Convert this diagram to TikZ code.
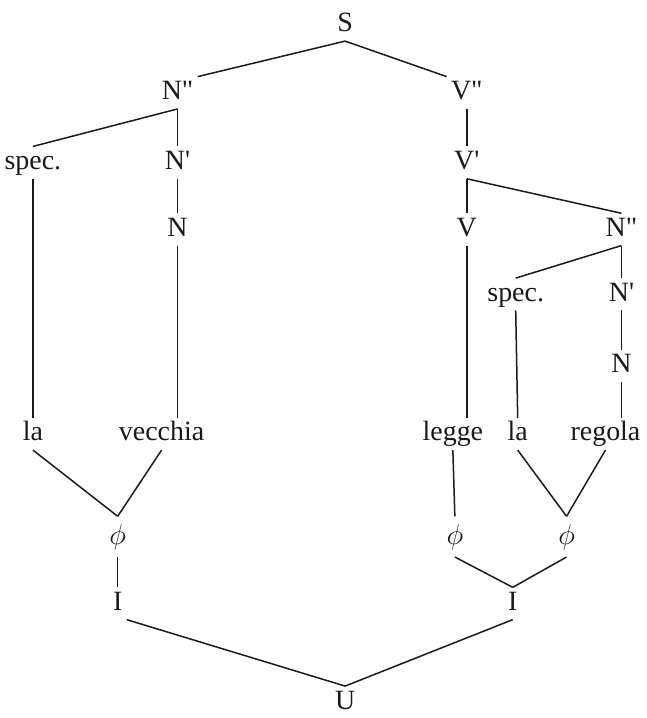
\documentclass[tikz,border=0pt]{standalone}
\usepackage{fontspec}
\setmainfont{Liberation Serif}
\usepackage{tikz}
\usetikzlibrary{calc}
\definecolor{ink}{HTML}{1A1A1A}
\tikzset{
  cat/.style={inner sep=2pt, text height=9.3pt, text depth=2.5pt, font=\fontsize{14}{16}\selectfont, text=ink},
  null/.style={cat, text height=12pt, text depth=4pt},
  br/.style={line width=0.75pt, draw=ink},
}
\newcommand{\dbl}{\textquotedbl}
\newcommand{\sgl}{\textquotesingle}

\begin{document}
\begin{tikzpicture}[x=0.5pt, y=-0.5pt]
    \fill[white] (0,0) rectangle (648,718);
    % categories
    \node[cat] (S) at (346,25) {S};
    \node[cat] (nnl) at (178,93) {N\dbl};
    \node[cat] (vvr) at (468,93) {V\dbl};
    \node[cat] (specl) at (33,163) {spec.};
    \node[cat] (nbl) at (178,163) {N\sgl};
    \node[cat] (vbr) at (468,163) {V\sgl};
    \node[cat] (nl) at (178,230) {N};
    \node[cat] (vr) at (468,230) {V};
    \node[cat] (nnr) at (623,230) {N\dbl};
    \node[cat] (specr) at (517,295) {spec.};
    \node[cat] (nbr) at (623,295) {N\sgl};
    \node[cat] (nr) at (623,367) {N};
    % words
    \node[cat] (lal) at (33,435) {la};
    \node[cat] (vecchia) at (162,435) {vecchia};
    \node[cat] (legge) at (454,435) {legge};
    \node[cat] (lar) at (519,435) {la};
    \node[cat] (regola) at (607,435) {regola};
    % lower part
    \node[null] (phil) at (118,538) {$\phi$};
    \node[null] (phim) at (456,538) {$\phi$};
    \node[null] (phir) at (568,538) {$\phi$};
    \node[cat] (il) at (118,605) {I};
    \node[cat] (ir) at (514,605) {I};
    \node[cat] (U) at (346,704) {U};

    \draw[br] (S.south) -- (nnl.north east);
    \draw[br] (S.south) -- (vvr.north west);
    \foreach \a/\b in {nnl/specl, nnl/nbl, nbl/nl, vvr/vbr, vbr/vr, vbr/nnr,
        nnr/specr, nnr/nbr, nbr/nr, specl/lal, specr/lar,
        lal/phil, vecchia/phil, legge/phim, lar/phir, regola/phir,
        phil/il, phim/ir, phir/ir}
      \draw[br] (\a.south) -- (\b.north);
    \foreach \a/\b in {nl/vecchia, vr/legge, nr/regola}
      \draw[br] (\a.south) -- (\a.south |- \b.north);
    \draw[br] (il.south east) -- (U.north);
    \draw[br] (ir.south) -- (U.north);
\end{tikzpicture}
\end{document}
